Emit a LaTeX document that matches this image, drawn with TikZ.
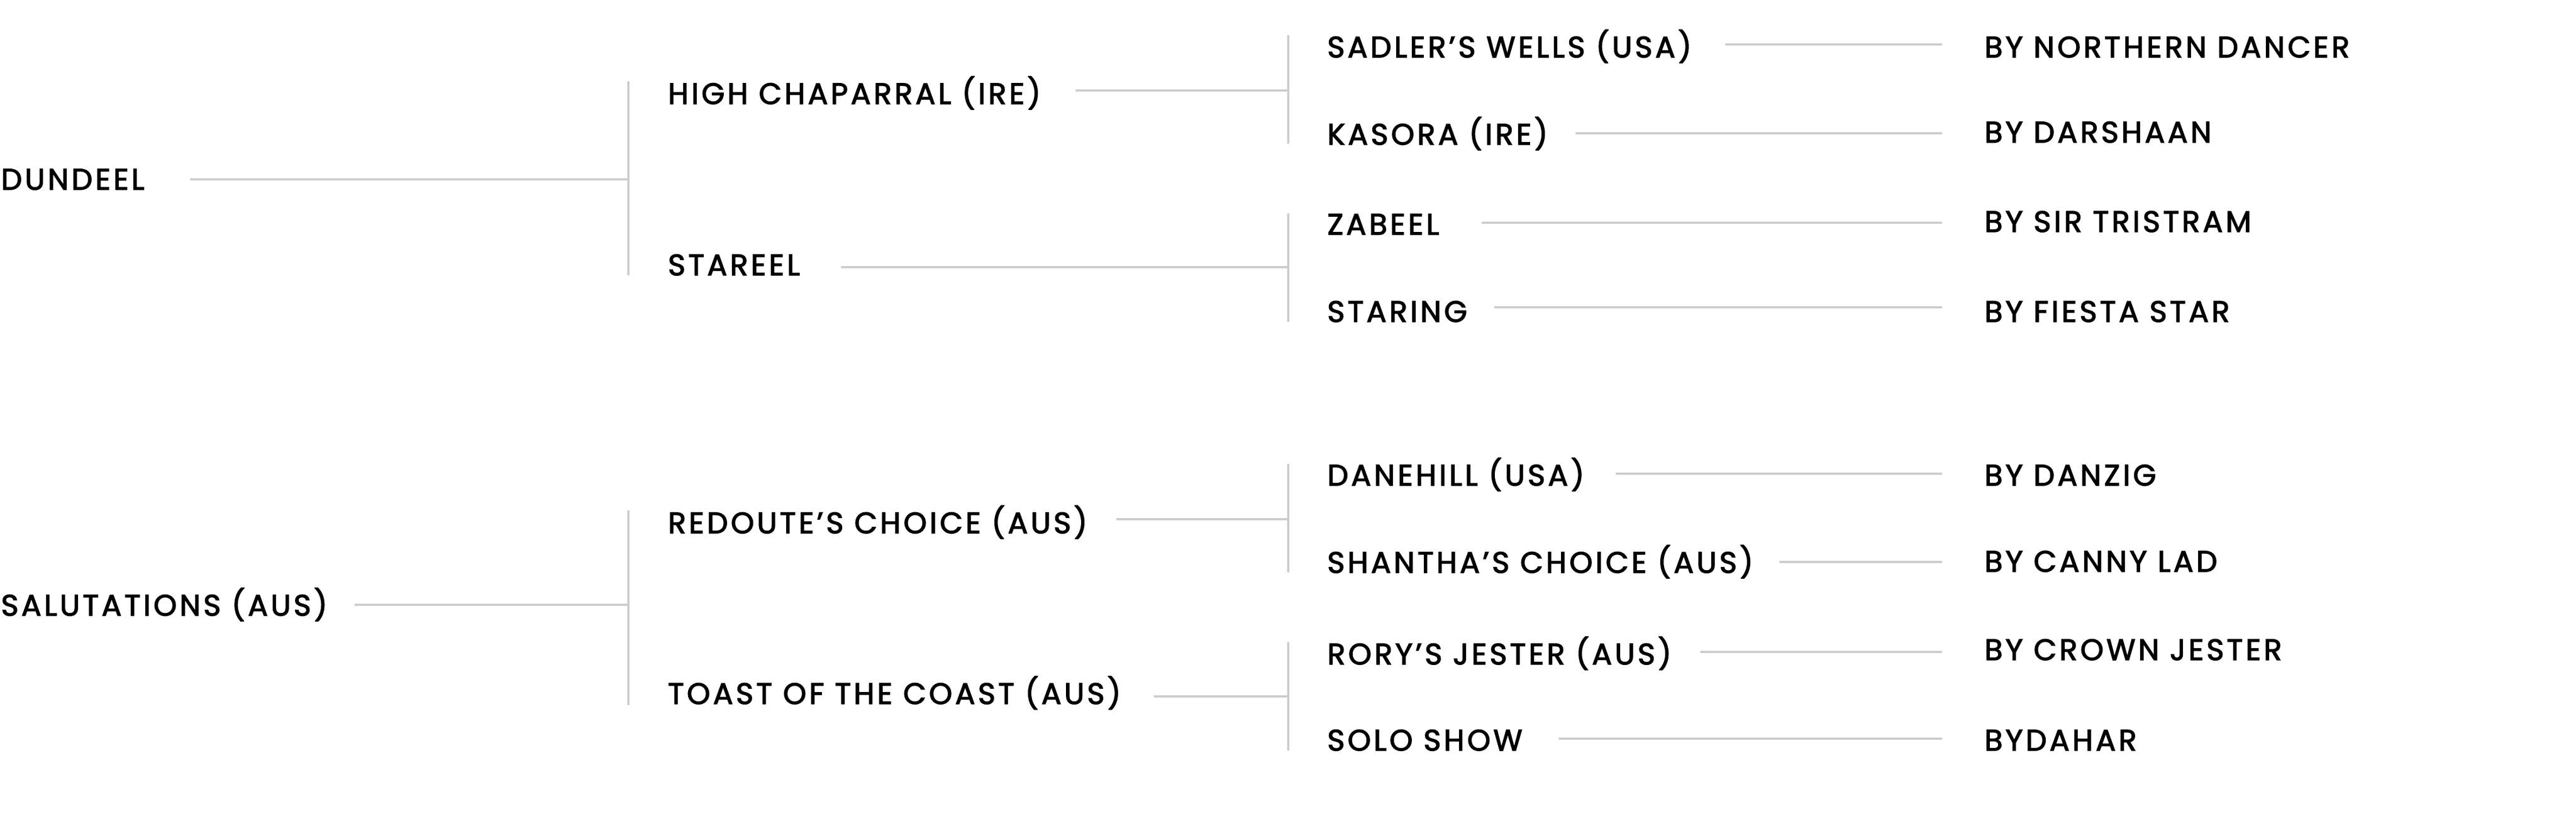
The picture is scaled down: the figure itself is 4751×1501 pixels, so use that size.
\documentclass[tikz,border=0pt]{standalone}
\usepackage{fontspec}
\setmainfont{Poppins}[LetterSpace=9.5,FakeBold=2.6]
\begin{document}
\begin{tikzpicture}[x=0.25pt,y=-0.25pt,
  lbl/.style={anchor=base west,inner sep=0pt,outer sep=0pt,font=\fontsize{13.7pt}{16pt}\selectfont,text=black},
  conn/.style={draw=black!20,line width=1.1pt}]
\useasboundingbox (0,0) rectangle (4751,1501);
% column 0
\node[lbl] (dundeel) at (2,350) {DUNDEEL};
\node[lbl] (salut) at (2,1136) {SALUTATIONS (AUS)};
% column 1
\node[lbl] (highc) at (1232,192) {HIGH CHAPARRAL (IRE)};
\node[lbl] (stareel) at (1232,508) {STAREEL};
\node[lbl] (redoute) at (1232,984) {REDOUTE’S CHOICE (AUS)};
\node[lbl] (toast) at (1232,1299) {TOAST OF THE COAST (AUS)};
% column 2
\node[lbl] (sadler) at (2448,106) {SADLER’S WELLS (USA)};
\node[lbl] (kasora) at (2448,267) {KASORA (IRE)};
\node[lbl] (zabeel) at (2448,433) {ZABEEL};
\node[lbl] (staring) at (2448,594) {STARING};
\node[lbl] (danehill) at (2448,896) {DANEHILL (USA)};
\node[lbl] (shantha) at (2448,1057) {SHANTHA’S CHOICE (AUS)};
\node[lbl] (rory) at (2448,1226) {RORY’S JESTER (AUS)};
\node[lbl] (solo) at (2448,1385) {SOLO SHOW};
% column 3
\node[lbl] (bynd) at (3660,106) {BY NORTHERN DANCER};
\node[lbl] (byda) at (3660,263) {BY DARSHAAN};
\node[lbl] (byst) at (3660,428) {BY SIR TRISTRAM};
\node[lbl] (byfs) at (3660,594) {BY FIESTA STAR};
\node[lbl] (bydz) at (3660,896) {BY DANZIG};
\node[lbl] (bycl) at (3660,1055) {BY CANNY LAD};
\node[lbl] (bycj) at (3660,1218) {BY CROWN JESTER};
\node[lbl] (bydh) at (3660,1385) {BYDAHAR};
% brackets level 1
\coordinate (v1at) at (1159,150); \coordinate (v1ab) at (1159,508);
\coordinate (v1bt) at (1159,942); \coordinate (v1bb) at (1159,1301);
\draw[conn] (v1at) -- (v1ab);
\draw[conn] (v1bt) -- (v1bb);
% brackets level 2
\coordinate (v2at) at (2376,65);  \coordinate (v2ab) at (2376,265);
\coordinate (v2bt) at (2376,394); \coordinate (v2bb) at (2376,594);
\coordinate (v2ct) at (2376,856); \coordinate (v2cb) at (2376,1056);
\coordinate (v2dt) at (2376,1185);\coordinate (v2db) at (2376,1385);
\draw[conn] (v2at) -- (v2ab);
\draw[conn] (v2bt) -- (v2bb);
\draw[conn] (v2ct) -- (v2cb);
\draw[conn] (v2dt) -- (v2db);
% horizontal connectors
\coordinate (h0a) at (351,331);  \draw[conn] (h0a) -- (h0a -| v1at);
\coordinate (h0b) at (654,1116); \draw[conn] (h0b) -- (h0b -| v1at);
\coordinate (h1a) at (1984,167); \draw[conn] (h1a) -- (h1a -| v2at);
\coordinate (h1b) at (1551,493); \draw[conn] (h1b) -- (h1b -| v2at);
\coordinate (h1c) at (2059,958); \draw[conn] (h1c) -- (h1c -| v2at);
\coordinate (h1d) at (2128,1285);\draw[conn] (h1d) -- (h1d -| v2at);
\coordinate (e3) at (3582,0);
\coordinate (h2a) at (3182,82);  \draw[conn] (h2a) -- (h2a -| e3);
\coordinate (h2b) at (2906,246); \draw[conn] (h2b) -- (h2b -| e3);
\coordinate (h2c) at (2733,411); \draw[conn] (h2c) -- (h2c -| e3);
\coordinate (h2d) at (2756,567); \draw[conn] (h2d) -- (h2d -| e3);
\coordinate (h2e) at (2980,874); \draw[conn] (h2e) -- (h2e -| e3);
\coordinate (h2f) at (3282,1037);\draw[conn] (h2f) -- (h2f -| e3);
\coordinate (h2g) at (3136,1203);\draw[conn] (h2g) -- (h2g -| e3);
\coordinate (h2h) at (2875,1363);\draw[conn] (h2h) -- (h2h -| e3);
\end{tikzpicture}
\end{document}
